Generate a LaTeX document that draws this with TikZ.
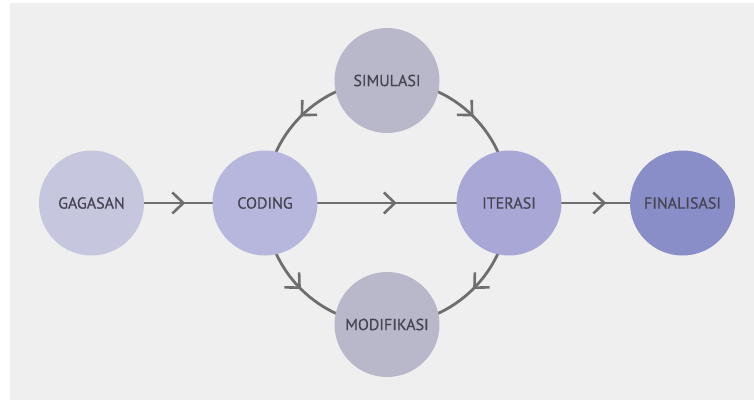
\documentclass[tikz,border=0pt]{standalone}
\usepackage{fontspec}
\setmainfont{PT Sans}
\newfontfamily\stagefont[FakeBold=0.6]{PT Sans}
\usetikzlibrary{arrows.meta,decorations.markings,backgrounds}

\definecolor{bgGray}{HTML}{EFEFEF}
\definecolor{lineGray}{HTML}{6E6E6E}
\definecolor{textGray}{HTML}{454552}
\definecolor{gagasanFill}{HTML}{C6C6DF}
\definecolor{codingFill}{HTML}{B7B7DE}
\definecolor{iterasiFill}{HTML}{A8A7D6}
\definecolor{finalFill}{HTML}{8A8EC8}
\definecolor{loopFill}{HTML}{B9B8CB}

\tikzset{
  stage/.style={circle, minimum size=105pt, inner sep=0pt, text=textGray,
    font=\stagefont\fontsize{16}{18}\selectfont},
  flow/.style={lineGray, line width=2.8pt, postaction={decorate},
    decoration={markings, mark=at position #1 with
      {\arrow[lineGray, line width=2.6pt]{Straight Barb[length=11pt,width=21pt]}}}},
  flow/.default=0.54
}

\begin{document}
\begin{tikzpicture}[x=1pt, y=1pt]
  \useasboundingbox (0,0) rectangle (754,400);

  % main row
  \node[stage, fill=gagasanFill] (gagasan) at (91.5,197) {GAGASAN};
  \node[stage, fill=codingFill] (coding) at (265,197) {CODING};
  \node[stage, fill=iterasiFill] (iterasi) at (509,197) {ITERASI};
  \node[stage, fill=finalFill] (final) at (682.5,197) {FINALISASI};

  % loop
  \node[stage, fill=loopFill] (simulasi) at (387,319.5) {SIMULASI};
  \node[stage, fill=loopFill] (modif) at (387,75.5) {MODIFIKASI};

  \begin{pgfonlayer}{background}
    \fill[bgGray] (10,0) rectangle (754,397);
    \draw[flow] (gagasan.center) -- (coding.center);
    \draw[flow] (coding.center) -- (iterasi.center);
    \draw[flow=0.56] (iterasi.center) -- (final.center);
    \draw[flow=0.5] (simulasi.center) to[bend right=45] (coding.center);
    \draw[flow=0.5] (simulasi.center) to[bend left=45] (iterasi.center);
    \draw[flow=0.5] (coding.center) to[bend right=45] (modif.center);
    \draw[flow=0.5] (iterasi.center) to[bend left=45] (modif.center);
  \end{pgfonlayer}
\end{tikzpicture}
\end{document}
